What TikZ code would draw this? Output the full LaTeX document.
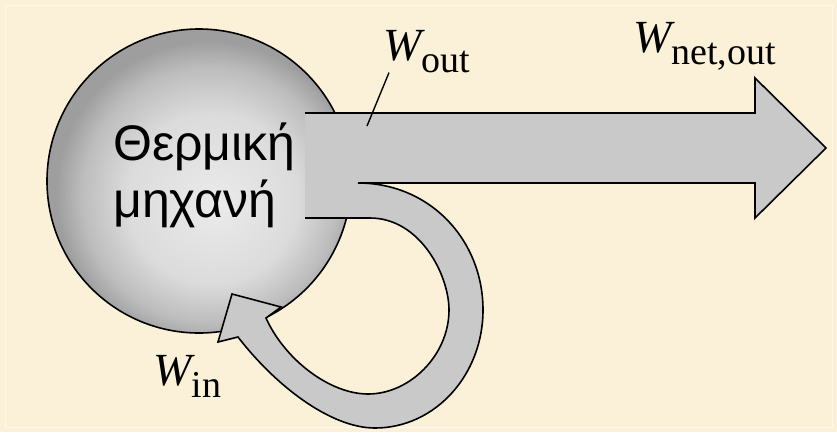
\documentclass[tikz,border=0pt]{standalone}
\usepackage{fontspec}
\setmainfont{Liberation Serif}
\newfontfamily\greeksans{Liberation Sans}
\usetikzlibrary{calc}

\definecolor{paper}{RGB}{251,241,216}
\definecolor{bandgray}{RGB}{201,201,201}
\pgfdeclareradialshading{engineball}{\pgfpoint{3bp}{-4bp}}{color(0bp)=(black!8); color(14bp)=(black!14); color(21bp)=(black!26); color(25bp)=(black!38); color(50bp)=(black!38)}

\newcommand{\wlabel}[1]{{\fontsize{46}{46}\selectfont\itshape W}\raisebox{-12pt}{\fontsize{38}{38}\selectfont #1}}

\begin{document}
\begin{tikzpicture}[x=1pt, y=-1pt,
    workline/.style={line width=1.6pt, line join=miter},
    enginetext/.style={font={\greeksans\fontsize{50}{50}\selectfont}, inner sep=0pt, anchor=base west},
    worklabel/.style={inner sep=0pt, anchor=base west}]

    % Background
    \fill[paper] (0,0) rectangle (837,432);
    \useasboundingbox (0,0) rectangle (837,432);
    \draw[white, opacity=0.6, line width=0.8pt] (5,5) rectangle (832,427);

    % Engine
    \shadedraw[workline, shading=engineball] (199,181) circle (152pt);

    % Work arrows (out, net out, back in)
    \draw[workline, fill=bandgray]
        (305,113) -- (755,113) -- (755,78) -- (826,148) -- (755,218) -- (755,183) -- (358,183)
        .. controls (430,183) and (483,240) .. (483,310)
        .. controls (483,375) and (435,428) .. (375,428)
        .. controls (330,428) and (275,385) .. (238,337)
        -- (218,342) -- (232,294) -- (281,307) -- (266,318)
        .. controls (285,360) and (330,394) .. (368,394)
        .. controls (410,394) and (449,355) .. (449,310)
        .. controls (449,275) and (420,218) .. (370,218)
        -- (305,218);

    % Labels
    \node[enginetext] (eng1) at (113,160) {Θερμική};
    \node[enginetext] (eng2) at ([yshift=-57pt]eng1.base west) {μηχανή};

    \node[worklabel] (wout) at (383,60) {\wlabel{out}};
    \node[worklabel] (wnet) at (633,52) {\wlabel{net,out}};
    \node[worklabel] (win) at (153,385) {\wlabel{in}};

    \coordinate (woutfoot) at (367,126);
    \draw[line width=1.4pt] (woutfoot) -- ([xshift=6pt]wout.south west);
\end{tikzpicture}
\end{document}
